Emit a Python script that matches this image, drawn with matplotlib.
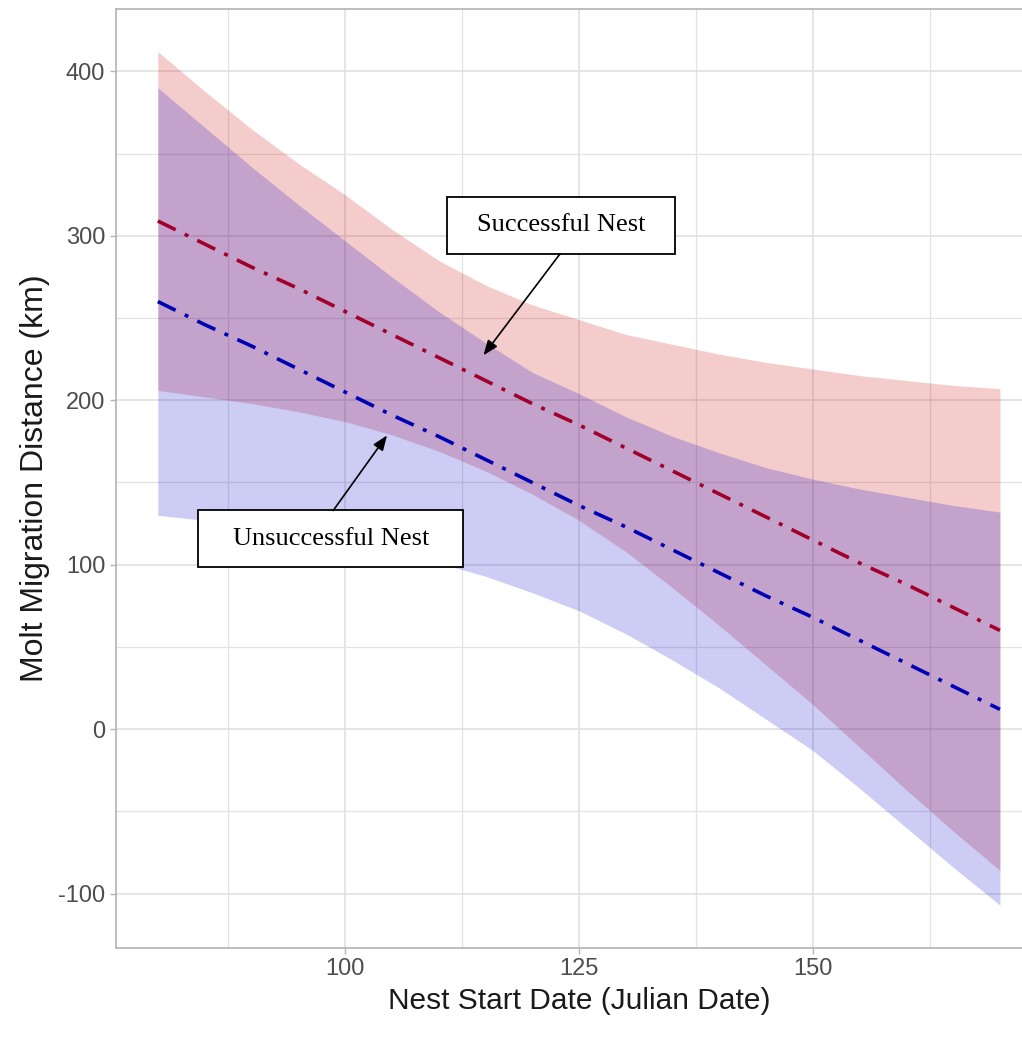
import matplotlib.pyplot as plt
from matplotlib.patches import Rectangle

plt.rcParams['axes.unicode_minus'] = False

# nest start date (julian) and fitted molt migration distance (km)
nest_date = [80, 85, 90, 95, 100, 105, 110, 115, 120, 125,
             130, 135, 140, 145, 150, 155, 160, 165, 170]

succ_fit = [309, 295, 281, 268, 254, 240, 226, 212, 198, 185,
            171, 157, 143, 129, 115, 101, 88, 74, 60]
succ_upper = [412, 388, 365, 344, 325, 304, 285, 270, 258, 249,
              240, 234, 228, 223, 219, 215, 212, 209, 207]
succ_lower = [206, 202, 198, 193, 187, 179, 169, 157, 143, 127,
              108, 86, 63, 39, 15, -11, -37, -62, -86]

unsucc_fit = [260, 246, 233, 219, 205, 191, 178, 164, 150, 136,
              123, 109, 95, 81, 68, 54, 40, 26, 12]
unsucc_upper = [390, 366, 342, 319, 297, 275, 254, 235, 217, 204,
                190, 178, 168, 159, 152, 146, 141, 136, 132]
unsucc_lower = [130, 127, 123, 118, 113, 108, 101, 93, 83, 72,
                58, 42, 25, 6, -13, -36, -60, -84, -107]

fig = plt.figure(figsize=(10.22, 10.37), dpi=100)
ax = fig.add_axes([0.1132, 0.0861, 0.9064, 0.9053])

# confidence bands
ax.fill_between(nest_date, succ_lower, succ_upper, color='#C80000', alpha=0.2, lw=0, zorder=2)
ax.fill_between(nest_date, unsucc_lower, unsucc_upper, color='#0000C8', alpha=0.2, lw=0, zorder=2)

# fitted lines, dash-dot
ax.plot(nest_date, succ_fit, color='#A0002A', lw=2.6,
        linestyle=(0, (5.5, 2.8, 1.1, 2.8)), zorder=3)
ax.plot(nest_date, unsucc_fit, color='#0000B4', lw=2.6,
        linestyle=(0, (5.5, 2.8, 1.1, 2.8)), zorder=3)

# ggplot-like 5% expansion
xmin, xmax = min(nest_date), max(nest_date)
ymin = min(succ_lower + unsucc_lower)
ymax = max(succ_upper + unsucc_upper)
ax.set_xlim(xmin - 0.05 * (xmax - xmin), xmax + 0.05 * (xmax - xmin))
ax.set_ylim(ymin - 0.05 * (ymax - ymin), ymax + 0.05 * (ymax - ymin))

ax.set_xticks([100, 125, 150])
ax.set_xticks([87.5, 112.5, 137.5, 162.5], minor=True)
ax.set_yticks([-100, 0, 100, 200, 300, 400])
ax.set_yticks([-50, 50, 150, 250, 350], minor=True)

ax.set_axisbelow(True)
ax.grid(which='major', color='#DEDEDE', lw=1.1)
ax.grid(which='minor', color='#E3E3E3', lw=0.9)
for s in ax.spines.values():
    s.set_color('#B3B3B3')
    s.set_linewidth(1.2)
ax.tick_params(which='major', length=4.5, width=1, color='#B3B3B3',
               labelcolor='#4D4D4D', labelsize=17, pad=3)
ax.tick_params(which='minor', length=0)
for lab in ax.get_xticklabels() + ax.get_yticklabels():
    lab.set_family('Liberation Sans')

ax.set_xlabel('Nest Start Date (Julian Date)', fontsize=21.5, family='Liberation Sans',
              color='#1A1A1A', labelpad=5)
ax.set_ylabel('Molt Migration Distance (km)', fontsize=23, family='Liberation Sans',
              color='#1A1A1A', labelpad=6)

# callout boxes
ax.add_patch(Rectangle((110.87, 289.1), 135.27 - 110.87, 323.5 - 289.1,
                       fc='white', ec='black', lw=1.3, zorder=5))
ax.text((110.87 + 135.27) / 2, (289.1 + 323.5) / 2, 'Successful Nest',
        family='Liberation Serif', fontsize=19, ha='center', va='center', zorder=6)
ax.annotate('', xy=(114.8, 227.3), xytext=(123.0, 289.1),
            arrowprops=dict(arrowstyle='-|>,head_length=0.9,head_width=0.35',
                            color='black', lw=1.2, shrinkA=0, shrinkB=0), zorder=6)

ax.add_patch(Rectangle((84.32, 98.5), 112.64 - 84.32, 132.96 - 98.5,
                       fc='white', ec='black', lw=1.3, zorder=5))
ax.text((84.32 + 112.64) / 2, (98.5 + 132.96) / 2, 'Unsuccessful Nest',
        family='Liberation Serif', fontsize=19, ha='center', va='center', zorder=6)
ax.annotate('', xy=(104.5, 178.6), xytext=(98.75, 132.96),
            arrowprops=dict(arrowstyle='-|>,head_length=0.9,head_width=0.35',
                            color='black', lw=1.2, shrinkA=0, shrinkB=0), zorder=6)

fig.savefig('out.png', dpi=100)
